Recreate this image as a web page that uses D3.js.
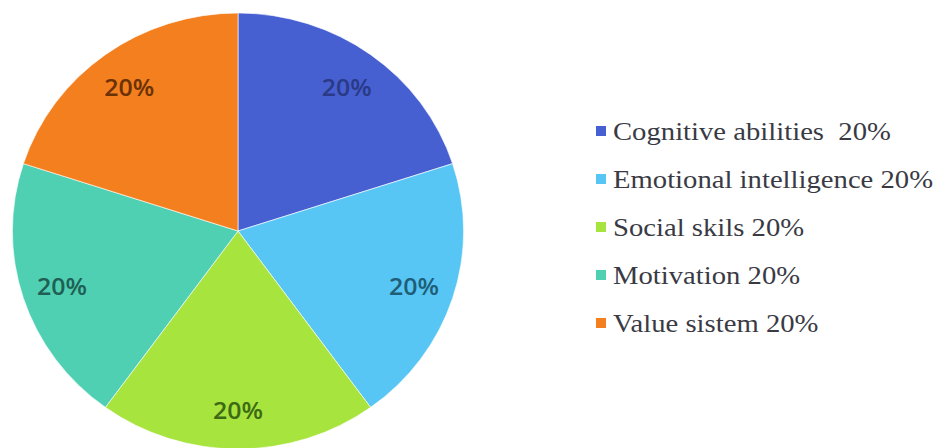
<!DOCTYPE html>
<html><head><meta charset="utf-8">
<script src="https://cdn.jsdelivr.net/npm/d3@7"></script>
<style>html,body{margin:0;padding:0;background:#fff;}svg{display:block;}</style>
</head><body>
<svg id="chart" width="937" height="448"></svg>
<script>
const categories = ["Cognitive abilities", "Emotional intelligence", "Social skils", "Motivation", "Value sistem"];
const legendLabels = ["Cognitive abilities\u00a0 20%", "Emotional intelligence 20%", "Social skils 20%", "Motivation 20%", "Value sistem 20%"];
const values = [20, 20, 20, 20, 20];
const colors = ["#4660d2", "#57c6f4", "#a8e43e", "#50d0b2", "#f47f1e"];
const labelColors = ["#2a3a86", "#1f5e78", "#3d6a14", "#1f5f55", "#6a3206"];

const svg = d3.select("#chart");
const cx = 238, cy = 231, r = 218;
const g = svg.append("g").attr("transform", `translate(${cx},${cy}) scale(1.035,1)`);

const pie = d3.pie().sort(null).value(d => d)(values);
const arc = d3.arc().innerRadius(0).outerRadius(r);
const labelArc = d3.arc().innerRadius(r * 0.82).outerRadius(r * 0.82);

g.selectAll("path.slice").data(pie).join("path")
  .attr("class", "slice")
  .attr("d", arc)
  .attr("fill", (d, i) => colors[i])
  .attr("stroke", "#ffffff").attr("stroke-width", 0.6);

g.selectAll("text.lbl").data(pie).join("text")
  .attr("class", "lbl")
  .attr("transform", d => { const c = labelArc.centroid(d); return `translate(${c[0]},${c[1]}) scale(${1.06/1.035},1)`; })
  .attr("text-anchor", "middle").attr("dominant-baseline", "central")
  .attr("font-family", "'Open Sans', sans-serif").attr("font-size", 23.5).attr("font-weight", 600)
  .attr("fill", (d, i) => labelColors[i])
  .text(d => d.value + "%");

const legend = svg.append("g").attr("transform", "translate(596,140)");
const rows = legend.selectAll("g").data(categories).join("g")
  .attr("transform", (d, i) => `translate(0,${i * 48})`);
rows.append("rect").attr("x", 0).attr("y", -14).attr("width", 10).attr("height", 10)
  .attr("fill", (d, i) => colors[i]);
rows.append("text").attr("x", 0).attr("y", 0)
  .attr("transform", "translate(17,0) scale(1.125,1)")
  .attr("font-family", "'Liberation Serif', 'Times New Roman', serif").attr("font-size", 25.5)
  .attr("fill", "#3a3a44")
  .text((d, i) => legendLabels[i]);
</script>
</body></html>
